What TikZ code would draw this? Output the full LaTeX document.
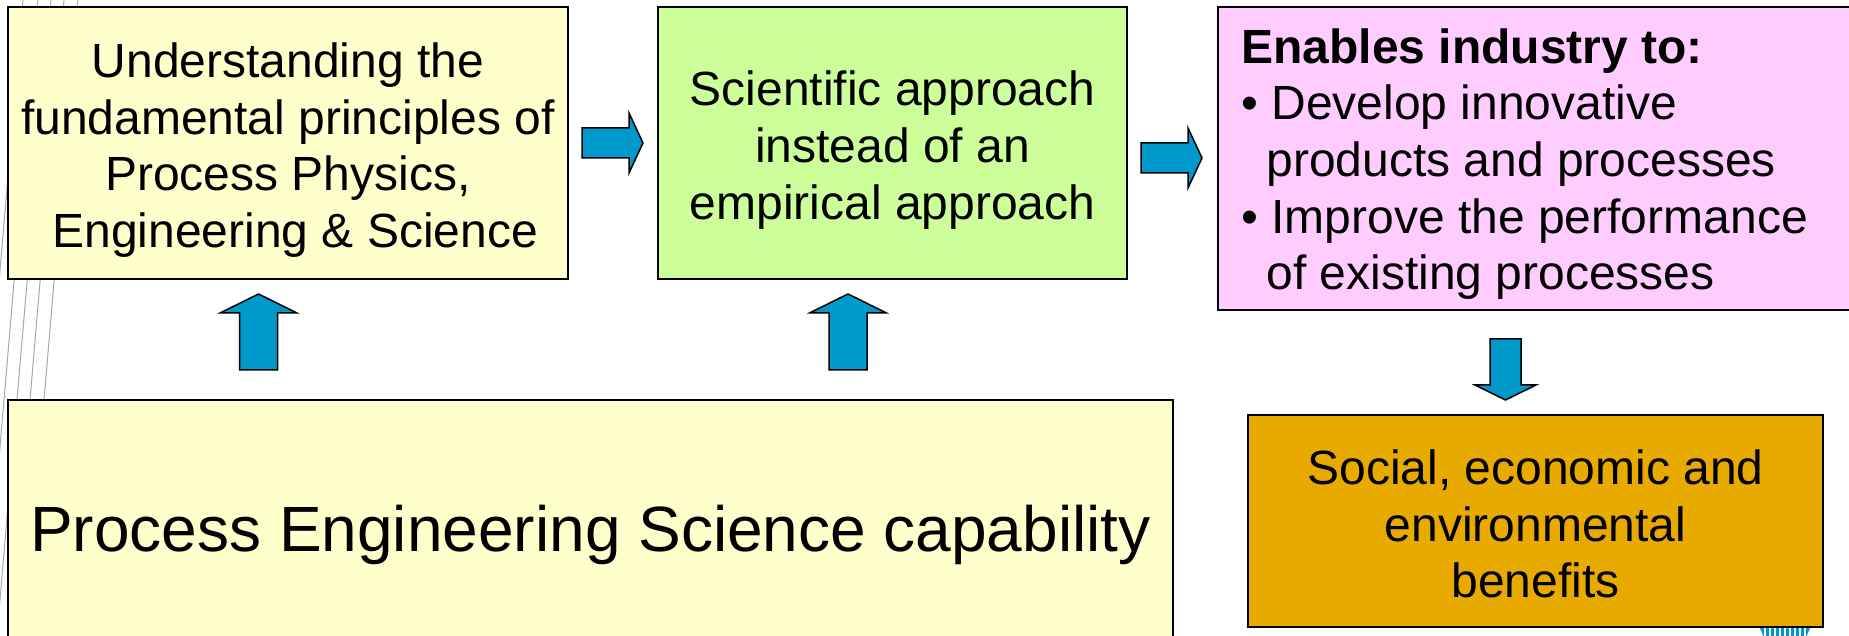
\documentclass[tikz,border=0pt]{standalone}
\usepackage{fontspec}
\setmainfont{Liberation Sans}
\definecolor{yellowbg}{HTML}{FFFFCC}
\definecolor{greenbg}{HTML}{CCFF99}
\definecolor{pinkbg}{HTML}{FFCCFF}
\definecolor{orangebg}{HTML}{E9AA00}
\definecolor{arrowblue}{HTML}{0099CC}
\definecolor{linegray}{HTML}{A8A8A8}
\tikzset{
  box/.style={draw=black, line width=1pt, inner sep=0pt, rectangle},
  txt/.style={font=\fontsize{24}{28.3}\selectfont, align=center, inner sep=0pt},
  bgline/.style={draw=linegray, line width=0.5pt},
  arr/.style={fill=arrowblue, draw=black, line width=0.75pt, line join=miter},
  rarr/.pic={\draw[arr] (-30.5,-15) -- (16.5,-15) -- (16.5,-30) -- (30.5,0) -- (16.5,30) -- (16.5,15) -- (-30.5,15) -- cycle;},
  uarr/.pic={\draw[arr] (-19,38) -- (-19,-19) -- (-38.5,-19) -- (0,-38) -- (38.5,-19) -- (19,-19) -- (19,38) -- cycle;},
  darr/.pic={\draw[arr] (-15.5,-30.5) -- (-15.5,15.5) -- (-30.5,15.5) -- (0,30.5) -- (30.5,15.5) -- (15.5,15.5) -- (15.5,-30.5) -- cycle;}
}
\begin{document}
\begin{tikzpicture}[x=0.5pt,y=-0.5pt]
\clip (0,0) rectangle (1849,636);
\fill[white] (0,0) rectangle (1849,636);
% background gray lines
\foreach \x in {23,38,51,64,78} \draw[bgline] (\x,0) -- (\x-54.06,636);
% boxes
\node[box, fill=yellowbg, minimum width=280pt, minimum height=136pt] (under) at (288,143) {};
\node[txt] (undertxt) at (288,150)
  {Understanding the\\fundamental principles of\\Process Physics,\\\hspace*{0.3em}Engineering \& Science};
\node[box, fill=greenbg, minimum width=234.5pt, minimum height=136pt] (sci) at (892.5,143) {};
\node[txt] (scitxt) at (892.5,150)
  {Scientific approach\\instead of an\\empirical approach};
\node[box, fill=pinkbg, minimum width=321pt, minimum height=151.5pt] (ind) at (1539,158.5) {};
\node[txt, align=left, anchor=west] (indtxt) at (1241,164)
  {\textbf{Enables industry to:}\\• Develop innovative\\\hspace*{12.5pt}products and processes\\• Improve the performance\\\hspace*{12.5pt}of existing processes};
\node[box, fill=yellowbg, minimum width=582.5pt, minimum height=127pt] (pes) at (590.5,527) {};
\node[inner sep=0pt, font=\fontsize{32}{38}\selectfont] (pestxt) at (590.5,535)
  {Process Engineering Science capability};
\node[box, fill=orangebg, minimum width=287.5pt, minimum height=106pt] (ben) at (1535.5,521) {};
\node[txt] (bentxt) at (1535.5,524)
  {Social, economic and\\environmental\\benefits};
% block arrows
\pic (a1) at (612.5,143) {rarr};
\pic (a2) at (1171.5,158) {rarr};
\pic (u1) at (258.5,332) {uarr};
\pic (u2) at (848,332) {uarr};
\pic (d1) at (1505.5,369.5) {darr};
% partial striped shape at bottom right
\begin{scope}
\clip (1760,628) -- (1810,628) -- (1805,640) -- (1765,640) -- cycle;
\fill[arrowblue] (1755,625) rectangle (1815,640);
\foreach \x in {1765,1770,...,1805} \draw[white, line width=0.6pt] (\x,625) -- (\x,640);
\end{scope}
\end{tikzpicture}
\end{document}
